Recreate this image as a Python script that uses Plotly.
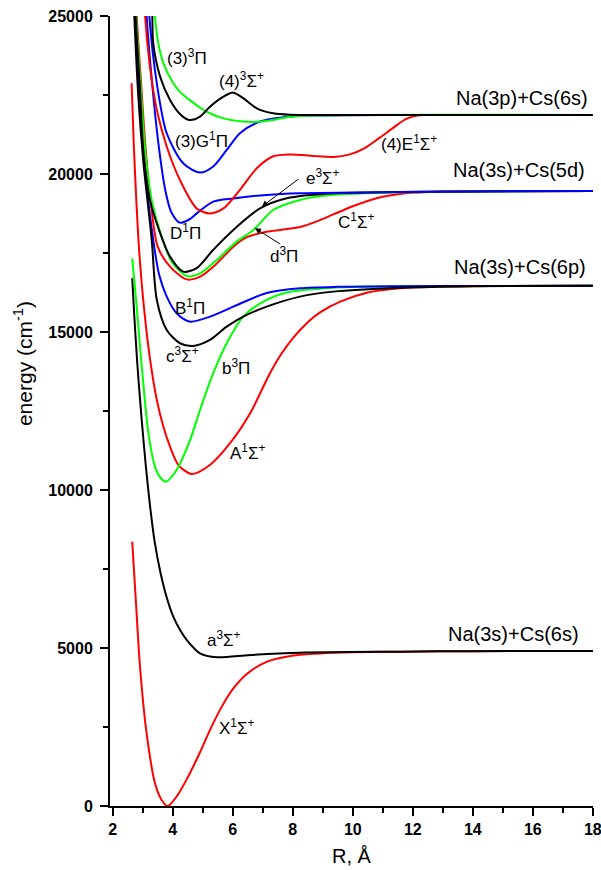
import plotly.graph_objects as go

# ---- data (R in Angstrom, energy in cm^-1) ----
X_R = [2.65, 2.77, 2.91, 3.13, 3.41, 3.63, 3.83, 4.13, 4.47, 4.91, 5.24, 5.58, 6.02, 6.47, 7.13, 8.02, 9.35, 11.58, 14.0, 18.0]
X_E = [8365, 6520, 4408, 2300, 718, 190, 0, 300, 850, 1700, 2400, 3050, 3720, 4180, 4560, 4760, 4852, 4884, 4900, 4905]

a_R = [2.65, 2.72, 2.82, 2.95, 3.10, 3.25, 3.40, 3.60, 3.80, 4.02, 4.25, 4.47, 4.91, 5.47, 6.58, 8.24, 11.58, 14.0, 18.0]
a_E = [16700, 15500, 14000, 12400, 10800, 9450, 8350, 7350, 6600, 5991, 5560, 5253, 4832, 4706, 4779, 4852, 4884, 4900, 4905]

A_R = [2.63, 2.70, 2.78, 2.88, 3.05, 3.25, 3.47, 3.69, 3.91, 4.19, 4.63, 5.24, 5.91, 6.58, 7.24, 7.60, 8.02, 8.50, 8.91, 9.58, 10.5, 11.58, 13.0, 15.0, 18.0]
A_E = [22870, 21000, 19300, 17600, 15700, 14100, 12850, 12000, 11370, 10790, 10508, 10790, 11480, 12430, 13695, 14280, 14820, 15310, 15620, 15960, 16250, 16385, 16440, 16455, 16460]

b_R = [2.65, 2.78, 2.97, 3.19, 3.41, 3.60, 3.77, 4.13, 4.58, 4.91, 5.35, 5.80, 6.35, 7.02, 7.80, 9.34, 11.0, 14.0, 18.0]
b_E = [17330, 16000, 13900, 11800, 10740, 10380, 10265, 10634, 11584, 12533, 13695, 14644, 15486, 15961, 16250, 16400, 16440, 16455, 16460]

c_R = [2.66, 2.72, 2.85, 3.02, 3.30, 3.47, 3.80, 4.24, 4.69, 5.24, 5.80, 6.35, 7.13, 8.24, 9.35, 11.58, 14.0, 18.0]
c_E = [26500, 25000, 22500, 20400, 17915, 16015, 15065, 14644, 14560, 14750, 15170, 15486, 15803, 16120, 16278, 16400, 16450, 16460]

B_R = [2.68, 2.74, 2.88, 3.05, 3.35, 3.55, 3.80, 4.13, 4.58, 5.24, 6.02, 7.13, 8.24, 9.50, 11.58, 14.0, 18.0]
B_E = [26500, 25000, 22500, 20400, 17915, 16800, 16120, 15594, 15328, 15486, 15803, 16236, 16385, 16430, 16450, 16458, 16460]

e_R = [2.70, 2.76, 2.90, 3.02, 3.24, 3.58, 3.91, 4.35, 4.80, 5.35, 6.02, 6.91, 7.80, 9.35, 11.58, 14.0, 18.0]
e_E = [26500, 25000, 22800, 20760, 19180, 18130, 17385, 16910, 17020, 17600, 18230, 18910, 19230, 19390, 19430, 19450, 19460]

d_R = [2.72, 2.78, 2.93, 3.08, 3.30, 3.63, 3.97, 4.47, 4.91, 5.47, 6.13, 6.69, 7.35, 8.24, 9.35, 11.58, 14.0, 18.0]
d_E = [26500, 25000, 22800, 20760, 19180, 18020, 17220, 16770, 16855, 17280, 17860, 18230, 18860, 19180, 19340, 19420, 19450, 19460]

C_R = [2.74, 2.80, 2.95, 3.10, 3.28, 3.50, 3.91, 4.47, 4.91, 5.47, 6.02, 6.47, 7.13, 7.60, 8.24, 8.80, 9.35, 10.0, 10.47, 11.0, 11.58, 12.5, 14.0, 18.0]
C_E = [26500, 25000, 22800, 20760, 19000, 17700, 17070, 16665, 16750, 17170, 17700, 18000, 18170, 18230, 18320, 18500, 18720, 18980, 19140, 19280, 19370, 19430, 19455, 19460]

D_R = [3.05, 3.13, 3.35, 3.55, 3.75, 3.95, 4.24, 4.55, 4.80, 5.35, 6.02, 7.13, 8.24, 11.58, 14.0, 18.0]
D_E = [26500, 25000, 22500, 20760, 19500, 18800, 18460, 18560, 18753, 19125, 19227, 19338, 19390, 19430, 19450, 19460]

E4_R = [3.02, 3.08, 3.24, 3.47, 3.80, 4.24, 4.80, 5.24, 5.69, 6.24, 6.80, 7.35, 7.91, 8.69, 9.35, 9.90, 10.40, 10.90, 11.40, 11.80, 12.20, 12.60, 14.0, 18.0]
E4_E = [26500, 25000, 23400, 22030, 20870, 19810, 18910, 18753, 18910, 19500, 20180, 20560, 20620, 20570, 20540, 20620, 20820, 21150, 21500, 21750, 21860, 21870, 21870, 21870]

G_R = [3.15, 3.22, 3.47, 3.80, 4.35, 4.91, 5.35, 5.80, 6.24, 6.91, 7.69, 8.80, 11.58, 18.0]
G_E = [26500, 25000, 22870, 21290, 20340, 20045, 20240, 20760, 21290, 21660, 21800, 21850, 21870, 21870]

S4_R = [3.28, 3.32, 3.35, 3.58, 3.91, 4.24, 4.55, 4.91, 5.24, 5.69, 6.02, 6.35, 6.80, 7.35, 7.91, 10.0, 18.0]
S4_E = [26500, 25000, 24140, 23080, 22340, 21900, 21710, 21815, 22130, 22450, 22575, 22400, 22080, 21920, 21875, 21870, 21870]

P3_R = [3.37, 3.41, 3.52, 3.69, 4.02, 4.24, 4.58, 4.91, 5.13, 5.69, 6.24, 6.80, 7.35, 7.91, 9.0, 18.0]
P3_E = [26500, 25000, 24140, 23500, 22870, 22600, 22330, 22100, 21970, 21760, 21670, 21650, 21710, 21815, 21860, 21870]

# labels: (text, R, E)
state_labels = [
    ("(3)<sup>3</sup>Π", 4.48, 23700),
    ("(4)<sup>3</sup>Σ<sup>+</sup>", 6.28, 22980),
    ("(3)G<sup>1</sup>Π", 4.97, 21080),
    ("D<sup>1</sup>Π", 4.44, 18165),
    ("e<sup>3</sup>Σ<sup>+</sup>", 9.0, 19905),
    ("d<sup>3</sup>Π", 7.71, 17440),
    ("C<sup>1</sup>Σ<sup>+</sup>", 10.11, 18513),
    ("(4)E<sup>1</sup>Σ<sup>+</sup>", 11.86, 20985),
    ("B<sup>1</sup>Π", 4.58, 15795),
    ("c<sup>3</sup>Σ<sup>+</sup>", 4.31, 14275),
    ("b<sup>3</sup>Π", 6.11, 13895),
    ("A<sup>1</sup>Σ<sup>+</sup>", 6.5, 11205),
    ("a<sup>3</sup>Σ<sup>+</sup>", 5.71, 5285),
    ("X<sup>1</sup>Σ<sup>+</sup>", 6.14, 2500),
]
asym_labels = [
    ("Na(3p)+Cs(6s)", 17.92, 22410),
    ("Na(3s)+Cs(5d)", 17.82, 20130),
    ("Na(3s)+Cs(6p)", 17.85, 17060),
    ("Na(3s)+Cs(6s)", 17.62, 5444),
]
# arrows: (tail R, tail E, head R, head E)
arrows = [
    (8.24, 19875, 6.97, 18970),
    (7.63, 17755, 6.74, 18285),
]

x_ticks = [2, 4, 6, 8, 10, 12, 14, 16, 18]
y_ticks = [0, 5000, 10000, 15000, 20000, 25000]

RED, GREEN, BLUE, BLACK = "#FF0000", "#00FF00", "#0000FF", "#000000"
FONT = "Liberation Sans, Arial, sans-serif"

curves = [
    (X_R, X_E, RED), (a_R, a_E, BLACK), (A_R, A_E, RED), (b_R, b_E, GREEN),
    (B_R, B_E, BLUE), (c_R, c_E, BLACK), (C_R, C_E, RED), (d_R, d_E, GREEN),
    (e_R, e_E, BLACK), (D_R, D_E, BLUE), (E4_R, E4_E, RED), (G_R, G_E, BLUE),
    (P3_R, P3_E, GREEN), (S4_R, S4_E, BLACK),
]

fig = go.Figure()
for r, e, col in curves:
    fig.add_trace(go.Scatter(x=r, y=e, mode="lines",
                             line=dict(color=col, width=2, shape="spline", smoothing=0.8),
                             showlegend=False, hoverinfo="skip"))

ann = []
for t, r, e in state_labels:
    ann.append(dict(x=r, y=e, text=t, showarrow=False, xref="x", yref="y",
                    font=dict(family=FONT, size=17, color="black"),
                    xanchor="center", yanchor="middle"))
for t, r, e in asym_labels:
    ann.append(dict(x=r, y=e, text=t, showarrow=False, xref="x", yref="y",
                    font=dict(family=FONT, size=20, color="black"),
                    xanchor="right", yanchor="middle"))
for tr, te, hr, he in arrows:
    ann.append(dict(x=hr, y=he, ax=tr, ay=te, axref="x", ayref="y", xref="x", yref="y",
                    text="", showarrow=True, arrowhead=2, arrowsize=1.2, arrowwidth=1,
                    arrowcolor="black"))
ann.append(dict(x=-0.18, y=0.5595, xref="paper", yref="paper", text="energy (cm<sup>-1</sup>)",
                textangle=-90, showarrow=False, font=dict(family=FONT, size=21, color="black"),
                xanchor="center", yanchor="middle"))

fig.update_layout(
    width=601, height=870,
    margin=dict(l=110, r=8, t=16, b=64),
    paper_bgcolor="white", plot_bgcolor="white",
    annotations=ann,
    font=dict(family=FONT, color="black"),
    xaxis=dict(range=[1.91, 18.005], tickvals=x_ticks, ticktext=[str(v) for v in x_ticks],
               automargin=False, ticklabeloverflow="allow",
               showgrid=False, zeroline=False, showline=True, linecolor="black", linewidth=2,
               ticks="outside", ticklen=8, tickwidth=1.5, tickcolor="black",
               tickfont=dict(family=FONT, size=16, color="black", weight="bold"),
               minor=dict(ticks="outside", ticklen=5, tickwidth=1.5, tickcolor="black", dtick=1, tick0=0),
               title=dict(text="R, Å", font=dict(family=FONT, size=20, color="black"), standoff=12)),
    yaxis=dict(range=[0, 25000], tickvals=y_ticks, ticktext=[str(v) for v in y_ticks],
               automargin=False, ticklabeloverflow="allow",
               showgrid=False, zeroline=False, showline=True, linecolor="black", linewidth=2,
               ticks="outside", ticklen=8, tickwidth=1.5, tickcolor="black", ticklabelstandoff=4,
               tickfont=dict(family=FONT, size=16, color="black", weight="bold"),
               minor=dict(ticks="outside", ticklen=5, tickwidth=1.5, tickcolor="black", dtick=2500, tick0=0)),
)

fig.write_html("out.html")
